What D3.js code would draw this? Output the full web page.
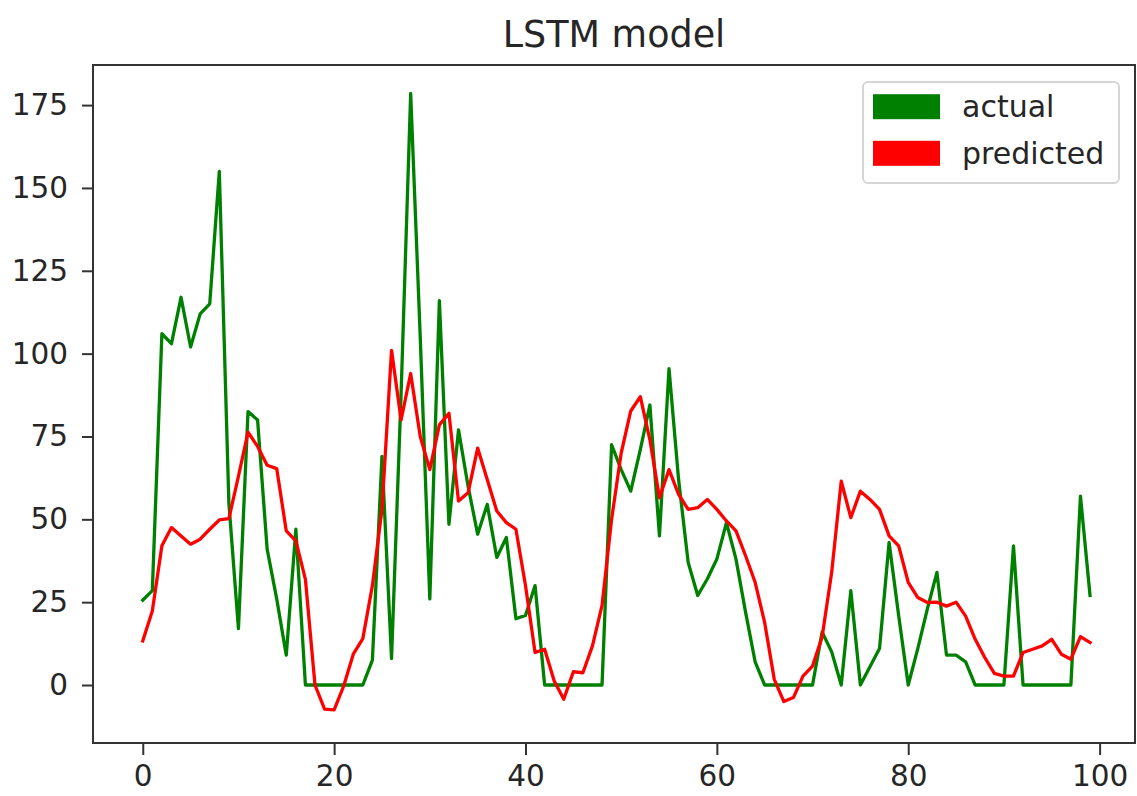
<!DOCTYPE html>
<html>
<head>
<meta charset="utf-8">
<script src="https://cdn.jsdelivr.net/npm/d3@7"></script>
<style>
  html, body { margin: 0; padding: 0; background: #fff; }
  svg { display: block; }
  text { font-family: "DejaVu Sans", sans-serif; }
</style>
</head>
<body>
<svg id="chart" width="1137" height="796"></svg>
<script>
const titleText = "LSTM model";
const seriesNames = ["actual", "predicted"];
const seriesColors = ["#008000", "#ff0000"];

const actual = [
  25.6, 28.5, 106, 103, 117, 102, 112, 115, 155, 55,
  17, 82.5, 80, 41, 26, 9, 47, 0, 0, 0,
  0, 0, 0, 0, 7.5, 69, 8, 88, 178.5, 105,
  26, 116, 48.5, 77, 60, 45.5, 54.5, 38.5, 44.5, 20,
  21, 30, 0, 0, 0, 0, 0, 0, 0, 72.5,
  65, 58.5, 71, 84.5, 45, 95.5, 62, 37, 27, 32,
  38, 49, 38, 22, 7, 0, 0, 0, 0, 0,
  0, 16, 10, 0, 28.5, 0, 5.5, 11, 43, 21,
  0, 11, 23, 34, 9, 9, 7, 0, 0, 0,
  0, 42, 0, 0, 0, 0, 0, 0, 57, 27
];

const predicted = [
  13.3, 22.3, 42, 47.5, 45, 42.5, 44, 47, 49.8, 50.2,
  63, 76.3, 72, 66.3, 65.3, 46.5, 43.5, 31.9, 0, -7.3,
  -7.5, -0.3, 9.3, 14, 30, 53, 101, 80, 94, 75,
  65, 78.5, 82, 55.5, 58, 71.5, 62, 52.5, 49, 47,
  30, 9.8, 10.8, 1.2, -4.3, 4, 3.7, 11.8, 24, 50,
  70, 82.7, 87, 74, 56.5, 65, 57.5, 53, 53.5, 56,
  53, 49.5, 46.5, 39, 31, 18.8, 1.7, -5, -3.8, 2.7,
  5.7, 14.5, 34, 61.5, 50.5, 58.5, 56, 53, 45, 42,
  31, 26.4, 24.9, 25, 23.8, 25, 20.8, 13.8, 8.3, 3.5,
  2.7, 2.7, 9.8, 10.8, 11.8, 13.8, 9.3, 7.8, 14.6, 12.8
];

const xTicks = [0, 20, 40, 60, 80, 100];
const yTicks = [0, 25, 50, 75, 100, 125, 150, 175];

const box = { left: 93, right: 1135, top: 65, bottom: 743 };
const svg = d3.select("#chart");

const x = d3.scaleLinear().domain([-5.2, 103.7]).range([box.left, box.right]);
const y = d3.scaleLinear().domain([-17.5, 187.1]).range([box.bottom, box.top]);

// Lines
const line = d3.line().x((d, i) => x(i)).y(d => y(d));
const plot = svg.append("g");
[actual, predicted].forEach((s, k) => {
  plot.append("path")
    .datum(s)
    .attr("fill", "none")
    .attr("stroke", seriesColors[k])
    .attr("stroke-width", 3.3)
    .attr("stroke-linejoin", "round")
    .attr("stroke-linecap", "square")
    .attr("d", line);
});

// Axes
const xAxis = d3.axisBottom(x).tickValues(xTicks).tickSize(12).tickPadding(10).tickFormat(d3.format("d"));
const yAxis = d3.axisLeft(y).tickValues(yTicks).tickSize(11).tickPadding(14).tickFormat(d3.format("d"));

const gx = svg.append("g").attr("transform", `translate(0,${box.bottom})`).call(xAxis);
const gy = svg.append("g").attr("transform", `translate(${box.left},0)`).call(yAxis);
[gx, gy].forEach(g => {
  g.select(".domain").remove();
  g.selectAll(".tick line").attr("stroke", "#333").attr("stroke-width", 2);
  g.selectAll(".tick text").attr("fill", "#262626").style("font-size", "29.5px").style("font-family", "DejaVu Sans");
});

// Spines
svg.append("rect")
  .attr("x", box.left).attr("y", box.top)
  .attr("width", box.right - box.left).attr("height", box.bottom - box.top)
  .attr("fill", "none").attr("stroke", "#333").attr("stroke-width", 2);

// Title
svg.append("text")
  .attr("x", (box.left + box.right) / 2)
  .attr("y", 47)
  .attr("text-anchor", "middle")
  .attr("fill", "#262626")
  .style("font-size", "36.5px")
  .text(titleText);

// Legend
const lg = svg.append("g");
lg.append("rect")
  .attr("x", 863).attr("y", 82).attr("width", 256).attr("height", 101)
  .attr("rx", 5).attr("ry", 5)
  .attr("fill", "#fff").attr("fill-opacity", 0.8)
  .attr("stroke", "#d5d5d5").attr("stroke-width", 2);
seriesNames.forEach((name, k) => {
  const cy = 106.7 + k * 46.6;
  lg.append("rect")
    .attr("x", 873).attr("y", cy - 12.5).attr("width", 67).attr("height", 25)
    .attr("fill", seriesColors[k]);
  lg.append("text")
    .attr("x", 962).attr("y", cy)
    .attr("dominant-baseline", "central")
    .attr("fill", "#262626")
    .style("font-size", "30px")
    .text(name);
});
</script>
</body>
</html>
